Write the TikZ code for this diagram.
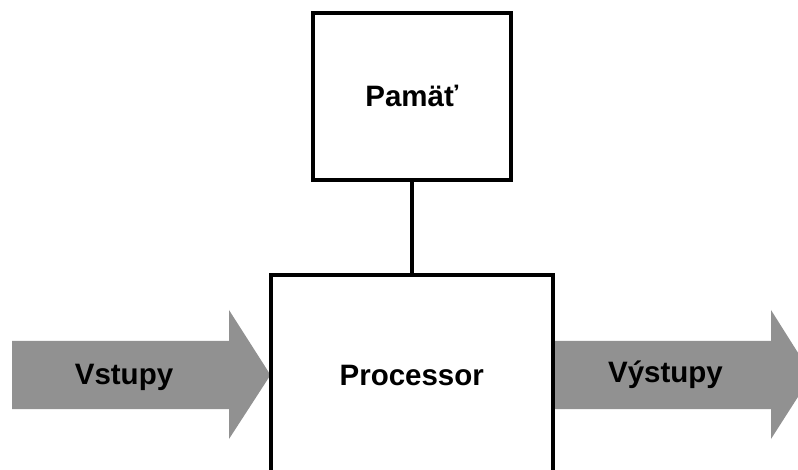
\documentclass[tikz,border=0pt]{standalone}
\usepackage{fontspec}
\setmainfont{Liberation Sans}
\definecolor{flowgray}{HTML}{919191}
\usetikzlibrary{positioning}
\tikzset{
    unitbox/.style={
        draw=black,
        fill=white,
        line width=4pt,
        align=center,
        font=\bfseries\fontsize{29.5}{34}\selectfont,
        text height=23.6pt,
        text depth=5pt
    },
    flowarrow/.style={
        fill=flowgray
    },
    flowlabel/.style={
        inner sep=0pt,
        font=\bfseries\fontsize{29.5}{34}\selectfont,
        text height=23.6pt,
        text depth=5pt
    },
    busline/.style={
        draw=black,
        line width=4pt
    }
}

\begin{document}
\begin{tikzpicture}[x=1pt,y=-1pt]
        \useasboundingbox (0,0) rectangle (798,470);
        \clip (0,0) rectangle (798,470);

        % wide gray arrows in and out
        \fill[flowarrow] (12,341) -- (229,341) -- (229,310) -- (270.5,375)
            -- (229,439) -- (229,409) -- (12,409) -- cycle;
        \fill[flowarrow] (553,341) -- (771,341) -- (771,310) -- (812,375)
            -- (771,439) -- (771,409) -- (553,409) -- cycle;

        \node[unitbox, minimum width=197.5pt, minimum height=167pt] (pamat)
            at (411.75,97) {Pamäť};
        \node[unitbox, minimum width=282.5pt, minimum height=203pt] (processor)
            at (411.75,376.5) {Processor};

        \draw[busline] (pamat.south) -- (processor.north);

        \node[flowlabel] (vstupy) at (124,375.5) {Vstupy};
        \node[flowlabel] (vystupy) at (665.5,373.5) {Výstupy};
    \end{tikzpicture}
\end{document}
